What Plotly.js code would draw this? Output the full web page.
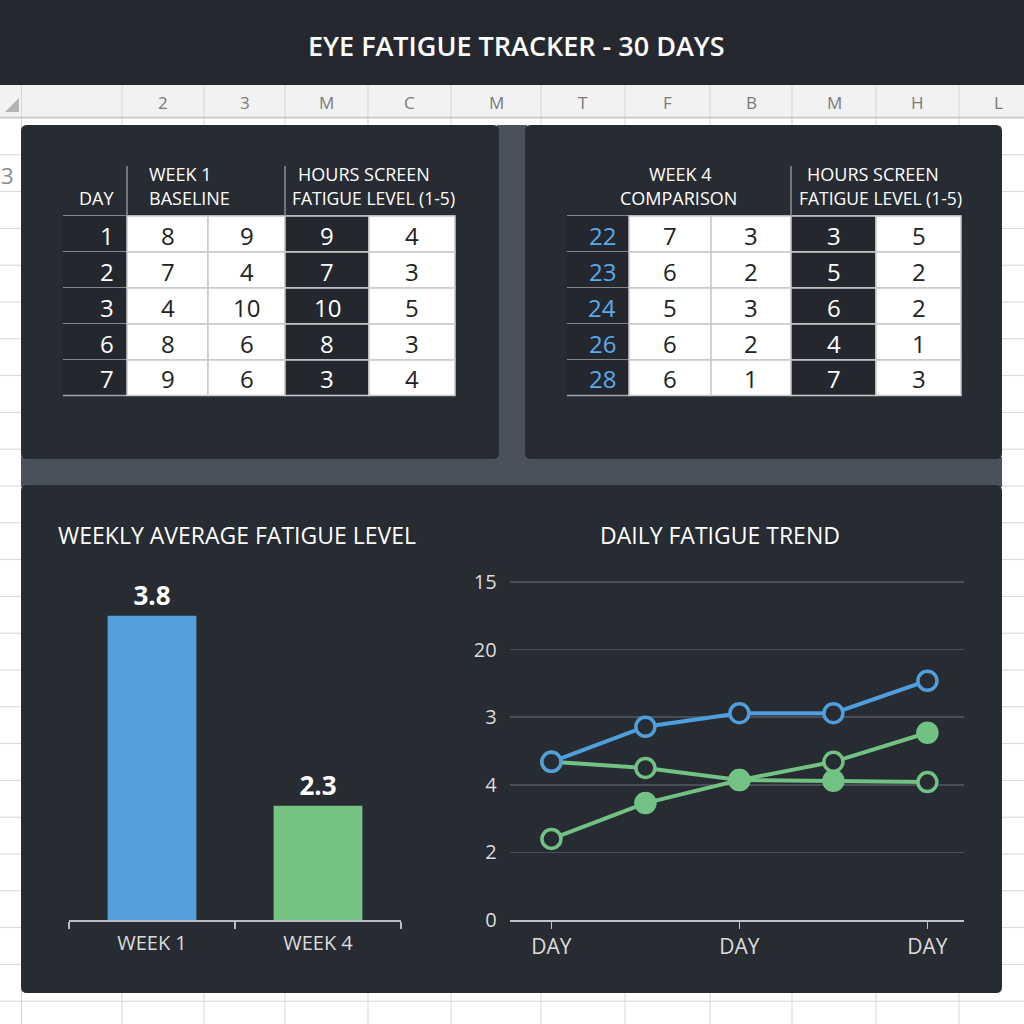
<!DOCTYPE html>
<html><head><meta charset="utf-8">
<script src="https://cdn.plot.ly/plotly-3.0.1.min.js"></script>
<style>html,body{margin:0;padding:0;background:#fff}#chart{width:1024px;height:1024px}</style>
</head><body><div id="chart"></div>
<script>
// ---------- data ----------
const sheetTitle = 'EYE FATIGUE TRACKER - 30 DAYS';
const sheetColumns = ['2','3','M','C','M','T','F','B','M','H','L'];
const week1Header = ['DAY', 'WEEK 1', 'BASELINE', 'HOURS SCREEN', 'FATIGUE LEVEL (1-5)'];
const week1Days = [1, 2, 3, 6, 7];
const week1ColA = [8, 7, 4, 8, 9];
const week1ColB = [9, 4, 10, 6, 6];
const week1ColC = [9, 7, 10, 8, 3];
const week1ColD = [4, 3, 5, 3, 4];
const week4Header = ['WEEK 4', 'COMPARISON', 'HOURS SCREEN', 'FATIGUE LEVEL (1-5)'];
const week4Days = [22, 23, 24, 26, 28];
const week4ColA = [7, 6, 5, 6, 6];
const week4ColB = [3, 2, 3, 2, 1];
const week4ColC = [3, 5, 6, 4, 7];
const week4ColD = [5, 2, 2, 1, 3];
const barTitle = 'WEEKLY AVERAGE FATIGUE LEVEL';
const weekLabels = ['WEEK 1', 'WEEK 4'];
const weeklyAvg = [3.8, 2.3];
const lineTitle = 'DAILY FATIGUE TREND';
const trendX = [0, 1, 2, 3, 4];
const trendTickVals = [0, 2, 4];
const trendTickText = ['DAY', 'DAY', 'DAY'];
const yTickVals = [0, 1, 2, 3, 4, 5];
const yTickText = ['0', '2', '4', '3', '20', '15'];
const trendBlue = [2.34, 2.86, 3.06, 3.06, 3.54];
const trendGreenA = [2.34, 2.25, 2.07, 2.06, 2.04];
const trendGreenB = [1.20, 1.73, 2.07, 2.34, 2.77];
const greenAFilled = [false, false, true, true, false];
const greenBFilled = [false, true, true, false, true];

// ---------- style ----------
const FONT = 'Open Sans, Noto Sans, DejaVu Sans, sans-serif';
const PANEL = '#272b32';
const GUTTER = '#4b515a';
const DARKCELL = '#24282e';
const BLUE = '#4f9fdd';
const GREEN = '#72c284';
const BARBLUE = '#53a0dc';
const BARGREEN = '#75c283';

const W = 1024, H = 1024;
const px = x => x / W;
const py = y => 1 - y / H;

const shapes = [];
const annotations = [];

function rect(x0, y0, x1, y1, fill, lineColor, lw) {
  shapes.push({type: 'rect', xref: 'paper', yref: 'paper', layer: 'below',
    x0: px(x0), x1: px(x1), y0: py(y1), y1: py(y0), fillcolor: fill,
    line: {color: lineColor || 'rgba(0,0,0,0)', width: lineColor ? (lw || 1) : 0}});
}
function line(x0, y0, x1, y1, color, lw) {
  shapes.push({type: 'line', xref: 'paper', yref: 'paper', layer: 'below',
    x0: px(x0), x1: px(x1), y0: py(y0), y1: py(y1), line: {color: color, width: lw || 1}});
}
function roundRect(x0, y0, x1, y1, r, fill) {
  const X = v => px(v).toFixed(5), Y = v => py(v).toFixed(5);
  const p = `M${X(x0 + r)},${Y(y0)} L${X(x1 - r)},${Y(y0)} Q${X(x1)},${Y(y0)} ${X(x1)},${Y(y0 + r)} ` +
    `L${X(x1)},${Y(y1 - r)} Q${X(x1)},${Y(y1)} ${X(x1 - r)},${Y(y1)} L${X(x0 + r)},${Y(y1)} ` +
    `Q${X(x0)},${Y(y1)} ${X(x0)},${Y(y1 - r)} L${X(x0)},${Y(y0 + r)} Q${X(x0)},${Y(y0)} ${X(x0 + r)},${Y(y0)} Z`;
  shapes.push({type: 'path', xref: 'paper', yref: 'paper', layer: 'below', path: p,
    fillcolor: fill, line: {width: 0}});
}
function text(t, x, y, size, color, xanchor, weight) {
  annotations.push({text: t, xref: 'paper', yref: 'paper', x: px(x), y: py(y),
    xanchor: xanchor || 'center', yanchor: 'middle', showarrow: false,
    font: {family: FONT, size: size, color: color, weight: weight || 'normal'}});
}

// ---------- spreadsheet background ----------
rect(0, 85, 1024, 118, '#f2f2f2');
const sheetColX = [21.5, 122, 204, 285, 368, 451, 541, 625, 710, 792, 876, 959, 1037];
for (let i = 0; i < sheetColX.length - 1; i++) line(sheetColX[i], 85, sheetColX[i], 1024, '#d5d5d5', 1);
for (let y = 118; y < 1024; y += 36.8) line(0, y, 1024, y, '#d5d5d5', 1);
line(0, 117.5, 1024, 117.5, '#c8c8c8', 1.5);
shapes.push({type: 'path', xref: 'paper', yref: 'paper', layer: 'below',
  path: `M${px(19)},${py(98)} L${px(19)},${py(112)} L${px(5)},${py(112)} Z`,
  fillcolor: '#b4b4b4', line: {width: 0}});
for (let i = 0; i < sheetColumns.length; i++) {
  const a = sheetColX[i + 1];
  const b = sheetColX[Math.min(i + 2, sheetColX.length - 1)];
  text(sheetColumns[i], (a + b) / 2, 102, 17, '#7a7a7a');
}
text('3', 16, 175, 22, '#8a8a8a', 'right');

// title bar
rect(0, 0, 1024, 85, '#25292f');
text(sheetTitle, 516, 45, 27, '#ffffff', 'center', 600);

// ---------- dashboard panels ----------
rect(497, 125, 527, 461, GUTTER);
rect(21, 457, 1002, 487, GUTTER);
roundRect(21, 125, 499, 459, 6, PANEL);
roundRect(525, 125, 1002, 459, 6, PANEL);
roundRect(21, 485, 1002, 993, 6, PANEL);

// ---------- tables ----------
const rowY = [216, 252, 288, 324, 360, 395.5];
function drawTable(xb, days, cols, dayColor) {
  line(xb[0], rowY[0], xb[5], rowY[0], '#a3a7ad', 1.5);
  for (let r = 0; r < days.length; r++) {
    const y0 = rowY[r], y1 = rowY[r + 1], yc = (y0 + y1) / 2 + 1;
    rect(xb[0], y0, xb[1], y1, DARKCELL);
    line(xb[0], y1, xb[1], y1, '#a3a7ad', 1.5);
    text(String(days[r]), xb[1] - 11, yc, 24, dayColor, 'right');
    for (let c = 0; c < cols.length; c++) {
      const dark = c === 2;
      rect(xb[c + 1], y0, xb[c + 2], y1, dark ? DARKCELL : '#ffffff', '#c9c9c9', 1.5);
      text(String(cols[c][r]), (xb[c + 1] + xb[c + 2]) / 2, yc, 24, dark ? '#ffffff' : '#222222');
    }
  }
}
const t1x = [63, 127, 208, 285, 369, 455];
drawTable(t1x, week1Days, [week1ColA, week1ColB, week1ColC, week1ColD], '#ffffff');
line(127, 166, 127, 216, '#8c9197', 1.5);
line(285, 166, 285, 216, '#8c9197', 1.5);
text(week1Header[0], 96, 198, 18, '#ffffff');
text(week1Header[1], 147, 174, 18, '#ffffff', 'left');
text(week1Header[2], 147, 198, 18, '#ffffff', 'left');
text(week1Header[3], 364, 174, 18, '#ffffff');
text(week1Header[4], 373, 198, 17.5, '#ffffff');

const t2x = [567, 629, 711, 791, 876, 961];
drawTable(t2x, week4Days, [week4ColA, week4ColB, week4ColC, week4ColD], '#5aabe9');
line(791, 166, 791, 216, '#8c9197', 1.5);
text(week4Header[0], 680, 174, 18, '#ffffff');
text(week4Header[1], 678, 198, 18, '#ffffff');
text(week4Header[2], 873, 174, 18, '#ffffff');
text(week4Header[3], 880, 198, 17.5, '#ffffff');

// chart titles
text(barTitle, 236.5, 535, 23, '#ffffff', 'center', 500);
text(lineTitle, 720, 535, 23, '#ffffff', 'center', 500);

// ---------- traces ----------
const barTrace = {
  type: 'bar', x: weekLabels, y: weeklyAvg, xaxis: 'x', yaxis: 'y',
  marker: {color: [BARBLUE, BARGREEN], line: {width: 0}}, width: 0.535,
  text: weeklyAvg.map(v => v.toFixed(1)), textposition: 'outside',
  textfont: {family: FONT, size: 26, color: '#ffffff', weight: 'bold'},
  hoverinfo: 'skip', showlegend: false
};
function lineTrace(y, color, filled) {
  return {
    type: 'scatter', mode: 'lines+markers', x: trendX, y: y, xaxis: 'x2', yaxis: 'y2',
    line: {color: color, width: 4},
    marker: {size: 19, color: filled.map(f => f ? color : PANEL), line: {color: color, width: 3.5}},
    cliponaxis: false, hoverinfo: 'skip', showlegend: false
  };
}
const traces = [
  barTrace,
  lineTrace(trendGreenA, GREEN, greenAFilled),
  lineTrace(trendGreenB, GREEN, greenBFilled),
  lineTrace(trendBlue, BLUE, trendBlue.map(() => false))
];

const layout = {
  width: W, height: H, margin: {l: 0, r: 0, t: 0, b: 0},
  paper_bgcolor: '#ffffff', plot_bgcolor: 'rgba(0,0,0,0)',
  font: {family: FONT}, showlegend: false,
  xaxis: {domain: [px(69), px(401)], anchor: 'y', type: 'category', range: [-0.5, 1.5],
    showline: true, linecolor: '#b9bcc0', linewidth: 1.5, ticks: 'outside', tickson: 'boundaries',
    ticklen: 7, tickwidth: 1.5, tickcolor: '#b9bcc0', showgrid: false, zeroline: false,
    ticklabelstandoff: 4,
    tickfont: {family: FONT, size: 20, color: '#dcdcdc'}, fixedrange: true},
  yaxis: {domain: [py(920), py(570)], anchor: 'x', range: [1.4, 4.16], visible: false,
    showgrid: false, zeroline: false, fixedrange: true},
  xaxis2: {domain: [px(509.6), px(963.6)], anchor: 'y2', range: [-0.445, 4.385],
    tickmode: 'array', tickvals: trendTickVals, ticktext: trendTickText,
    showline: true, linecolor: '#c0c3c7', linewidth: 1.5, ticks: 'outside', ticklen: 7,
    tickwidth: 1.5, tickcolor: '#c0c3c7', showgrid: false, zeroline: false,
    tickfont: {family: FONT, size: 21, color: '#dcdcdc'}, fixedrange: true},
  yaxis2: {domain: [py(920), py(575)], anchor: 'x2', range: [0, 5.104],
    tickmode: 'array', tickvals: yTickVals, ticktext: yTickText,
    showgrid: true, gridcolor: '#4a4f57', gridwidth: 1.5, zeroline: false, showline: false,
    ticks: '', ticklabelstandoff: 12,
    tickfont: {family: FONT, size: 20, color: '#dcdcdc'}, fixedrange: true},
  shapes: shapes, annotations: annotations
};

Plotly.newPlot('chart', traces, layout, {staticPlot: true, displayModeBar: false});
</script>
</body></html>
